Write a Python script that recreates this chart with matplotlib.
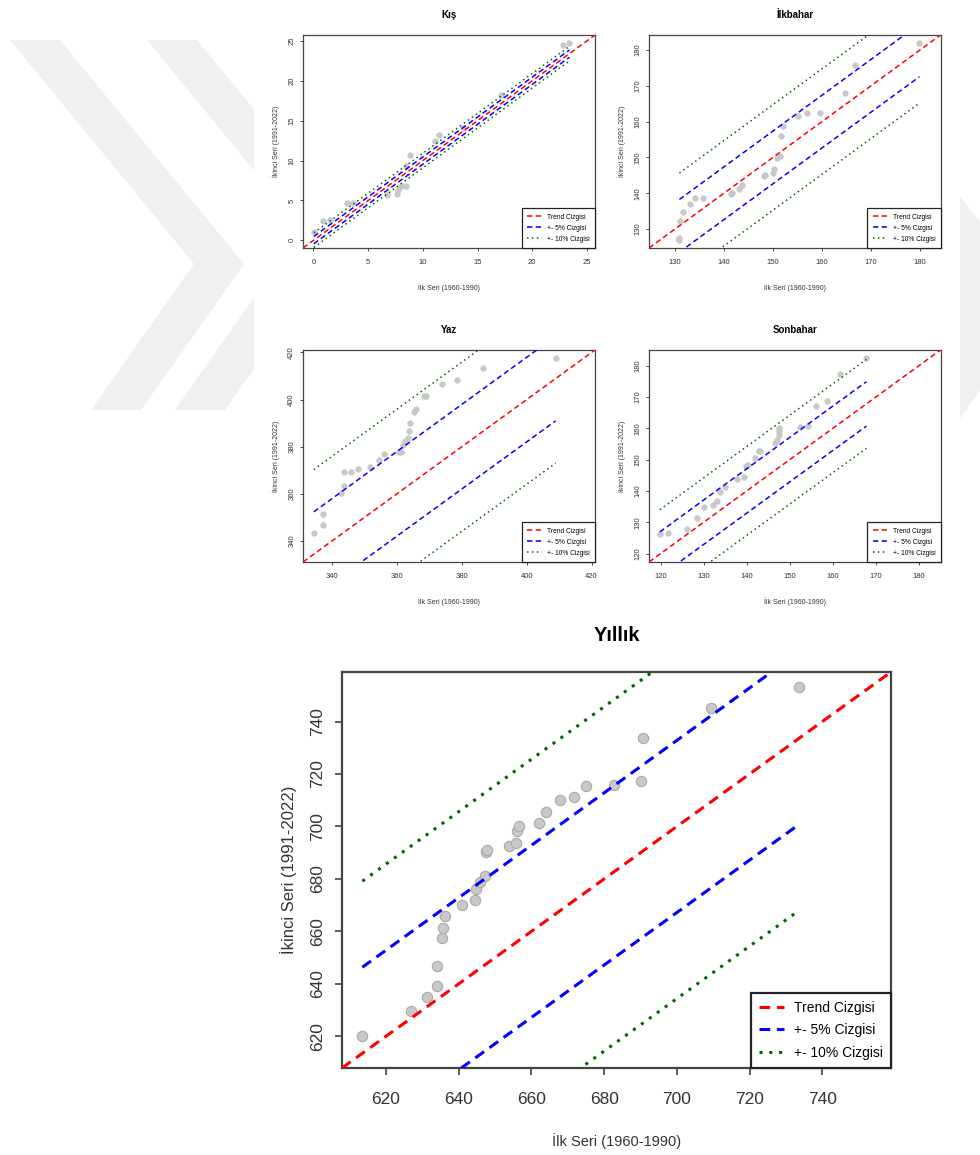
import numpy as np
import matplotlib
matplotlib.use('Agg')
import matplotlib.pyplot as plt
from matplotlib.patches import Polygon, Rectangle

plt.rcParams['font.family'] = ['Liberation Sans', 'DejaVu Sans']

# data: ilk seri (1960-1990) vs ikinci seri (1991-2022)
kis_ilk = [0.03, 0.9, 1.5, 3.1, 3.6, 6.7, 7.6, 7.75, 8.0, 8.5, 8.5, 8.8, 11.1, 11.5, 13.7, 17.1, 22.8, 23.4]
kis_ikinci = [1.1, 2.45, 2.55, 4.7, 4.7, 5.7, 5.85, 6.3, 6.8, 6.8, 9.3, 10.75, 12.5, 13.15, 14.1, 18.2, 24.45, 24.75]

ilkbahar_ilk = [130.9, 130.9, 131.1, 131.6, 133.0, 134.1, 135.7, 141.5, 141.6, 143.1, 143.6, 148.1, 148.4,
                150.0, 150.3, 150.9, 151.5, 151.7, 152.0, 155.2, 157.0, 159.7, 164.8, 166.7, 179.9]
ilkbahar_ikinci = [126.9, 127.6, 132.2, 134.7, 137.1, 138.6, 138.6, 139.7, 140.2, 141.2, 142.3, 144.9, 145.2,
                   145.6, 146.8, 149.9, 150.5, 156.0, 158.8, 161.6, 162.4, 162.4, 168.0, 175.9, 182.0]

yaz_ilk = [334.3, 337.0, 337.0, 342.6, 343.6, 343.6, 345.8, 347.8, 351.7, 354.5, 356.0, 360.6, 361.2,
           361.7, 362.4, 363.3, 363.7, 363.9, 365.2, 365.8, 368.3, 369.0, 373.7, 378.6, 386.6, 408.9]
yaz_ikinci = [343.3, 346.5, 351.3, 360.2, 363.3, 369.4, 369.4, 370.5, 371.5, 374.3, 376.9, 377.9, 377.9,
              380.7, 382.4, 383.8, 386.6, 389.9, 394.8, 395.8, 401.5, 401.6, 406.4, 408.4, 413.6, 417.7]

sonbahar_ilk = [119.8, 121.7, 126.1, 128.5, 130.1, 132.2, 133.1, 133.8, 135.0, 137.7, 139.4, 139.8, 140.2,
                141.9, 142.8, 143.1, 146.6, 147.0, 147.4, 147.4, 147.6, 152.4, 154.2, 156.1, 158.7, 161.7, 167.8]
sonbahar_ikinci = [126.3, 126.6, 127.9, 131.4, 134.8, 135.4, 136.8, 139.8, 141.4, 143.9, 144.4, 147.8, 148.2,
                   150.4, 152.8, 152.8, 155.4, 156.3, 157.8, 159.2, 160.2, 160.5, 160.8, 167.2, 168.8, 177.5, 182.5]

yillik_ilk = [613.5, 626.9, 631.4, 633.9, 633.9, 635.4, 635.7, 636.2, 641.0, 644.5, 644.7, 645.8, 647.3,
              647.6, 647.7, 653.9, 655.7, 655.9, 656.5, 662.2, 663.9, 667.9, 671.7, 675.1, 682.8, 690.1,
              690.8, 709.5, 733.6]
yillik_ikinci = [620.0, 629.5, 634.8, 639.3, 646.7, 657.5, 661.3, 665.7, 670.2, 671.8, 676.1, 678.7, 681.0,
                 690.2, 691.2, 692.7, 693.7, 698.2, 700.3, 701.3, 705.4, 710.2, 711.1, 715.5, 715.9, 717.2,
                 733.8, 745.2, 753.3]

kis_ticks = [0, 5, 10, 15, 20, 25]
ilkbahar_ticks = [130, 140, 150, 160, 170, 180]
yaz_ticks = [340, 360, 380, 400, 420]
sonbahar_ticks = [120, 130, 140, 150, 160, 170, 180]
yillik_ticks = [620, 640, 660, 680, 700, 720, 740]

legend_labels = ['Trend Cizgisi', '+- 5% Cizgisi', '+- 10% Cizgisi']
xlabel = 'İlk Seri (1960-1990)'
ylabel = 'İkinci Seri (1991-2022)'

W, H = 980, 1155
fig = plt.figure(figsize=(W / 100, H / 100), dpi=100)


def px(pts):
    return [(x / W, 1 - y / H) for x, y in pts]


# faint watermark behind the panels
wm = '#f0f0f0'
fig.add_artist(Polygon(px([(10, 40), (60, 40), (244, 264), (141, 410), (91, 410), (194, 264)]),
                       closed=True, transform=fig.transFigure, color=wm, lw=0, zorder=0))
fig.add_artist(Polygon(px([(147, 40), (197, 40), (352, 229), (225, 410), (175, 410), (302, 229)]),
                       closed=True, transform=fig.transFigure, color=wm, lw=0, zorder=0))
fig.add_artist(Polygon(px([(880, 100), (1045, 300), (880, 530)]),
                       closed=True, transform=fig.transFigure, color=wm, lw=0, zorder=0))
fig.add_artist(Rectangle((254 / W, 1 - 620 / H), 706 / W, 620 / H,
                         transform=fig.transFigure, color='white', lw=0, zorder=0.5))


def panel(rect, x, y, ticks, title, big):
    ax = fig.add_axes(rect)
    ax.set_zorder(2)
    x = np.array(x)
    y = np.array(y)
    lo = min(x.min(), y.min())
    hi = max(x.max(), y.max())
    pad = 0.04 * (hi - lo)
    ax.set_xlim(lo - pad, hi + pad)
    ax.set_ylim(lo - pad, hi + pad)

    if big:
        lw, ms, fs, tfs, xfs, yfs, leg_fs = 2.2, 55, 12.5, 14.5, 10.5, 12, 10
        tlen, tpad_x, tpad_y, title_pad = 5, 12, 7, 22
        xl_y, yl_x, frame_lw = -0.165, -0.082, 1.6
        hl, hp, bp = 1.8, 0.7, 0.6
    else:
        lw, ms, fs, tfs, xfs, yfs, leg_fs = 1.1, 17, 5.5, 7, 5, 5, 4.8
        tlen, tpad_x, tpad_y, title_pad = 2, 6, 3.5, 12
        xl_y, yl_x, frame_lw = -0.165, -0.08, 0.9
        hl, hp, bp = 2.2, 0.8, 0.8

    ax.scatter(x, y, s=ms, color='#c9c9c9', edgecolors='#a8a8a8' if big else '#c0c0c0',
               linewidths=0.8 if big else 0.3, zorder=2)

    band5 = 0.05 * x.mean()
    band10 = 0.10 * x.mean()
    xs = np.array([x.min(), x.max()])
    ax.axline((lo, lo), slope=1, color='red', lw=lw, ls=(0, (3.5, 2.2)), label=legend_labels[0], zorder=3)
    ax.plot(xs, xs + band5, color='blue', lw=lw, ls=(0, (3.5, 2.2)), label=legend_labels[1], zorder=3)
    ax.plot(xs, xs - band5, color='blue', lw=lw, ls=(0, (3.5, 2.2)), zorder=3)
    ax.plot(xs, xs + band10, color='darkgreen', lw=lw, ls=(0, (1, 2.2)), label=legend_labels[2], zorder=3)
    ax.plot(xs, xs - band10, color='darkgreen', lw=lw, ls=(0, (1, 2.2)), zorder=3)

    ax.set_xticks(ticks)
    ax.set_yticks(ticks)
    ax.tick_params(axis='both', direction='out', length=tlen, width=frame_lw * 0.7,
                   labelsize=fs, colors='#333333')
    ax.tick_params(axis='x', pad=tpad_x)
    ax.tick_params(axis='y', pad=tpad_y, labelrotation=90)
    for lab in ax.get_yticklabels():
        lab.set_va('center')

    for sp in ax.spines.values():
        sp.set_color('#444444')
        sp.set_linewidth(frame_lw)

    ax.set_title(title, fontsize=tfs, fontweight='bold', pad=title_pad)
    ax.set_xlabel(xlabel, fontsize=xfs, color='#333333')
    ax.set_ylabel(ylabel, fontsize=yfs, color='#333333')
    ax.xaxis.set_label_coords(0.5, xl_y)
    ax.yaxis.set_label_coords(yl_x, 0.5)

    leg = ax.legend(loc='lower right', fontsize=leg_fs, frameon=True, fancybox=False,
                    framealpha=1, edgecolor='#222222', borderaxespad=0,
                    handlelength=hl, handletextpad=hp, borderpad=bp, labelspacing=0.6)
    leg.get_frame().set_linewidth(frame_lw)
    leg.set_zorder(5)
    return ax


panel([303 / W, 1 - 248 / H, 292 / W, 213 / H], kis_ilk, kis_ikinci, kis_ticks, 'Kış', False)
panel([649 / W, 1 - 248 / H, 291.5 / W, 213 / H], ilkbahar_ilk, ilkbahar_ikinci, ilkbahar_ticks, 'İlkbahar', False)
panel([303 / W, 1 - 562 / H, 292 / W, 212 / H], yaz_ilk, yaz_ikinci, yaz_ticks, 'Yaz', False)
panel([649 / W, 1 - 562 / H, 291.5 / W, 212 / H], sonbahar_ilk, sonbahar_ikinci, sonbahar_ticks, 'Sonbahar', False)
panel([342 / W, 1 - 1068 / H, 549 / W, 396 / H], yillik_ilk, yillik_ikinci, yillik_ticks, 'Yıllık', True)

fig.savefig('out.png', dpi=100)
